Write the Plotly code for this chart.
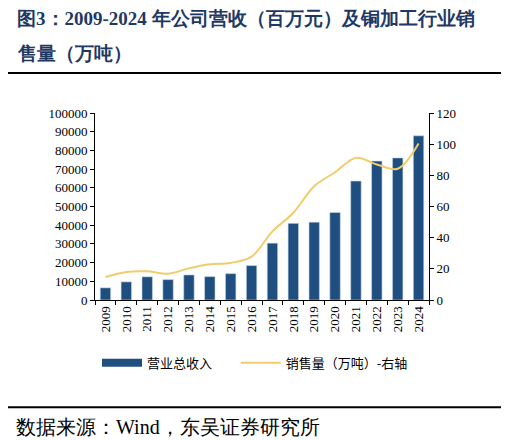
import plotly.graph_objects as go

# 数据
years = [str(y) for y in range(2009, 2025)]
revenue = [6500, 9700, 12400, 10900, 13400, 12500, 14100, 18400,
           30400, 41000, 41600, 46800, 63600, 74300, 76000, 87800]
sales = [14.8, 18.0, 18.4, 16.9, 20.3, 22.9, 23.8, 27.8,
         44.0, 56.0, 73.0, 82.0, 91.2, 87.0, 84.2, 100.4]

title_1 = "图3：2009-2024 年公司营收（百万元）及铜加工行业销"
title_2 = "售量（万吨）"
source = "数据来源：Wind，东吴证券研究所"

BAR = "#1f4e80"
GOLD = "#f0cc6b"
NAVY = "#1f3864"

# 页面有 8px 的 body 边距，按页面像素换算成 paper 坐标
OFF = 8
W, H = 509 - OFF, 440 - OFF
L, R, T, B = 95 - OFF, 429 - OFF, 112.5 - OFF, 300 - OFF


def px(x):
    return (x - OFF - L) / (R - L)


def py(y):
    return (B - (y - OFF)) / (B - T)


serif = "Liberation Serif"

fig = go.Figure()
fig.add_trace(go.Bar(x=years, y=revenue, marker_color=BAR,
                     marker_line=dict(color="#c9d6e6", width=0.6),
                     showlegend=False))
fig.add_trace(go.Scatter(x=years, y=sales, yaxis="y2", mode="lines",
                         line=dict(color=GOLD, width=2, shape="spline", smoothing=1),
                         showlegend=False))
# 图例（柱子用粗线代替，画出长条）；名字后面补空格拉开两项的距离
fig.add_trace(go.Scatter(x=[None], y=[None], mode="lines",
                         name="营业总收入\u3000\u00a0\u00a0",
                         line=dict(color=BAR, width=8)))
fig.add_trace(go.Scatter(x=[None], y=[None], mode="lines", name="销售量（万吨）-右轴",
                         line=dict(color=GOLD, width=2)))

axis_common = dict(showline=True, linecolor="#000", linewidth=1, ticks="outside",
                   ticklen=4, tickcolor="#000", showgrid=False, zeroline=False,
                   tickfont=dict(family=serif, size=13, color="#000"))

fig.update_layout(
    width=W, height=H, autosize=False,
    margin=dict(l=L, r=W - R, t=T, b=H - B),
    plot_bgcolor="white", paper_bgcolor="white",
    bargap=0.5,
    xaxis=dict(**axis_common, type="category", tickson="boundaries", tickangle=-90),
    yaxis=dict(**axis_common, range=[0, 100000], dtick=10000, tickformat="d"),
    yaxis2=dict(**axis_common, overlaying="y", side="right", range=[0, 120], dtick=20),
    legend=dict(orientation="h", x=px(97), y=py(363), xanchor="left", yanchor="middle",
                itemwidth=40,
                font=dict(family="Noto Sans CJK SC", size=13, color="#000")),
)

for txt, yy in [(title_1, 17.5), (title_2, 53)]:
    fig.add_annotation(text="<b>" + txt + "</b>", xref="paper", yref="paper",
                       x=px(15), y=py(yy), xanchor="left", yanchor="middle",
                       showarrow=False,
                       font=dict(family=serif, size=19, color=NAVY))
fig.add_annotation(text=source, xref="paper", yref="paper",
                   x=px(14), y=py(427), xanchor="left", yanchor="middle",
                   showarrow=False,
                   font=dict(family=serif, size=20, color="#000"))

for yy in [72.5, 407.5]:
    fig.add_shape(type="line", xref="paper", yref="paper", layer="above",
                  x0=px(5), x1=px(504), y0=py(yy), y1=py(yy),
                  line=dict(color="#000", width=2))

fig.write_html("out.html")
